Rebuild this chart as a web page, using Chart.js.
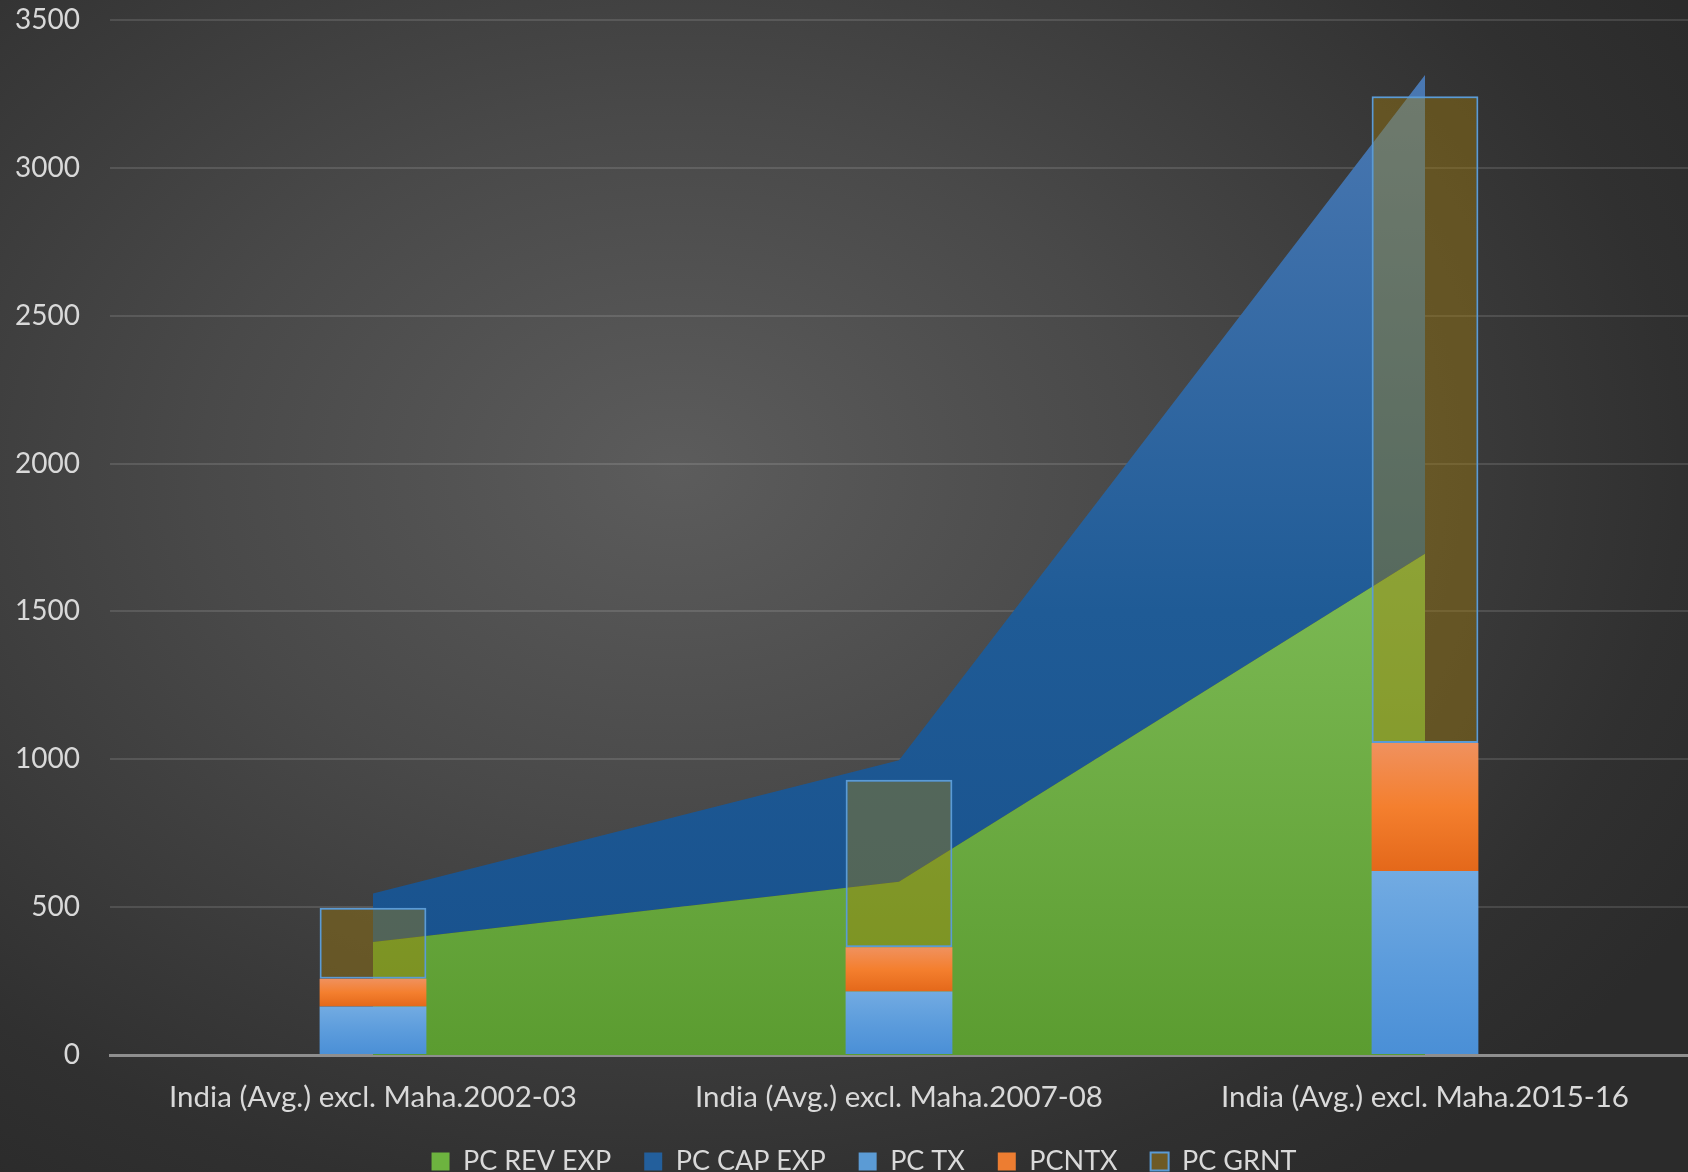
<!DOCTYPE html>
<html>
<head>
<meta charset="utf-8">
<title>Per capita revenue and expenditure</title>
<script src="https://cdn.jsdelivr.net/npm/chart.js@4/dist/chart.umd.min.js"></script>
<style>
  html, body {
    margin: 0;
    padding: 0;
    width: 1688px;
    height: 1172px;
    overflow: hidden;
    background: radial-gradient(ellipse 70% 75% at 40% 40%, #5c5c5c 0%, #494949 40%, #303030 85%, #2b2b2b 100%);
  }
</style>
</head>
<body>
<canvas id="financeChart" width="1688" height="1185"></canvas>
<script>
// categories and per-capita series
var categories = [
  "India (Avg.) excl. Maha.2002-03",
  "India (Avg.) excl. Maha.2007-08",
  "India (Avg.) excl. Maha.2015-16"
];
var revExp = [382, 586, 1695];
var capExp = [164, 411, 1619];
var taxRev = [164, 215, 622];
var nonTaxRev = [94, 149, 433];
var grants = [240, 567, 2187];

var yMin = 0;
var yMax = 3500;
var yStep = 500;

var textColor = "#d9d9d9";
var fontFamily = "Lato, 'Open Sans', sans-serif";

// vertical gradient for an area, stops given as [value, colour]
function areaGradient(stops) {
  return function(context) {
    var chart = context.chart;
    var y = chart.scales.y;
    if (!chart.chartArea || !y) {
      return stops[stops.length - 1][1];
    }
    var top = y.getPixelForValue(stops[0][0]);
    var bottom = y.getPixelForValue(0);
    var g = chart.ctx.createLinearGradient(0, top, 0, bottom);
    stops.forEach(function(s) {
      g.addColorStop((y.getPixelForValue(s[0]) - top) / (bottom - top), s[1]);
    });
    return g;
  };
}

// each bar segment gets its own top-to-bottom gradient
function segmentGradient(colors, below) {
  return function(context) {
    var chart = context.chart;
    var y = chart.scales.y;
    var i = context.dataIndex;
    if (!chart.chartArea || !y || i === undefined) {
      return colors[colors.length - 1];
    }
    var base = 0;
    below.forEach(function(series) { base += series[i]; });
    var top = base + context.dataset.data[i];
    var g = chart.ctx.createLinearGradient(0, y.getPixelForValue(top), 0, y.getPixelForValue(base));
    colors.forEach(function(c, k) {
      g.addColorStop(k / (colors.length - 1), c);
    });
    return g;
  };
}

var legendColors = ["#6db33f", "#235f9c", "#5b9bd5", "#ed7d31", "#6e5a24"];

// legend sits centred under the plot rather than the whole canvas
var legendNudge = {
  id: "legendNudge",
  beforeDraw: function(chart) {
    if (chart.legend) {
      chart.legend.left = 40;
    }
  }
};

var ctx = document.getElementById("financeChart");
var financeChart = new Chart(ctx, {
  type: "bar",
  plugins: [legendNudge],
  data: {
    labels: categories,
    datasets: [
      {
        type: "line",
        label: "PC REV EXP",
        data: revExp,
        order: 2,
        fill: "origin",
        tension: 0,
        pointRadius: 0,
        borderWidth: 0,
        backgroundColor: areaGradient([[1700, "#7dba55"], [0, "#5b9c30"]])
      },
      {
        type: "line",
        label: "PC CAP EXP",
        data: capExp,
        order: 2,
        fill: "-1",
        tension: 0,
        pointRadius: 0,
        borderWidth: 0,
        backgroundColor: areaGradient([[3300, "#4a78b2"], [1500, "#1f5b96"], [0, "#17508c"]])
      },
      {
        label: "PC TX",
        data: taxRev,
        order: 1,
        backgroundColor: segmentGradient(["#72abe2", "#5c9cdc", "#4a8fd6"], [])
      },
      {
        label: "PCNTX",
        data: nonTaxRev,
        order: 1,
        backgroundColor: segmentGradient(["#f0915e", "#f47f2e", "#e4681a"], [taxRev])
      },
      {
        label: "PC GRNT",
        data: grants,
        order: 1,
        backgroundColor: "rgba(168, 128, 8, 0.4)",
        borderColor: "#5b9bd5",
        borderWidth: 2,
        borderSkipped: false
      }
    ]
  },
  options: {
    responsive: false,
    animation: false,
    layout: { padding: { top: 20, right: 0, bottom: 0, left: 0 } },
    datasets: {
      bar: { categoryPercentage: 1, barPercentage: 0.203 }
    },
    scales: {
      x: {
        stacked: true,
        grid: { display: false, drawTicks: false },
        border: { color: "#8f8f8f", width: 3 },
        ticks: {
          color: textColor,
          font: { family: fontFamily, size: 29.5 },
          padding: 25,
          maxRotation: 0
        },
        afterFit: function(scale) {
          scale.height = 60;
        }
      },
      y: {
        stacked: true,
        min: yMin,
        max: yMax,
        border: { display: false },
        grid: {
          color: "rgba(255, 255, 255, 0.12)",
          lineWidth: 2,
          drawTicks: true,
          tickLength: 30,
          tickColor: "rgba(0, 0, 0, 0)"
        },
        ticks: {
          stepSize: yStep,
          color: textColor,
          font: { family: fontFamily, size: 28 },
          padding: 0,
          callback: function(value) { return String(value); }
        },
        afterFit: function(scale) {
          scale.width = 110;
        }
      }
    },
    plugins: {
      tooltip: { enabled: false },
      legend: {
        position: "bottom",
        labels: {
          color: textColor,
          font: { family: fontFamily, size: 27 },
          boxWidth: 18,
          boxHeight: 18,
          padding: 33,
          sort: function(a, b) { return a.datasetIndex - b.datasetIndex; },
          generateLabels: function(chart) {
            var items = Chart.defaults.plugins.legend.labels.generateLabels(chart);
            items.forEach(function(item) {
              item.fillStyle = legendColors[item.datasetIndex];
              if (item.datasetIndex === 4) {
                item.strokeStyle = "#5b9bd5";
                item.lineWidth = 2;
              } else {
                item.strokeStyle = legendColors[item.datasetIndex];
                item.lineWidth = 0;
              }
            });
            return items;
          }
        }
      }
    }
  }
});
</script>
</body>
</html>
